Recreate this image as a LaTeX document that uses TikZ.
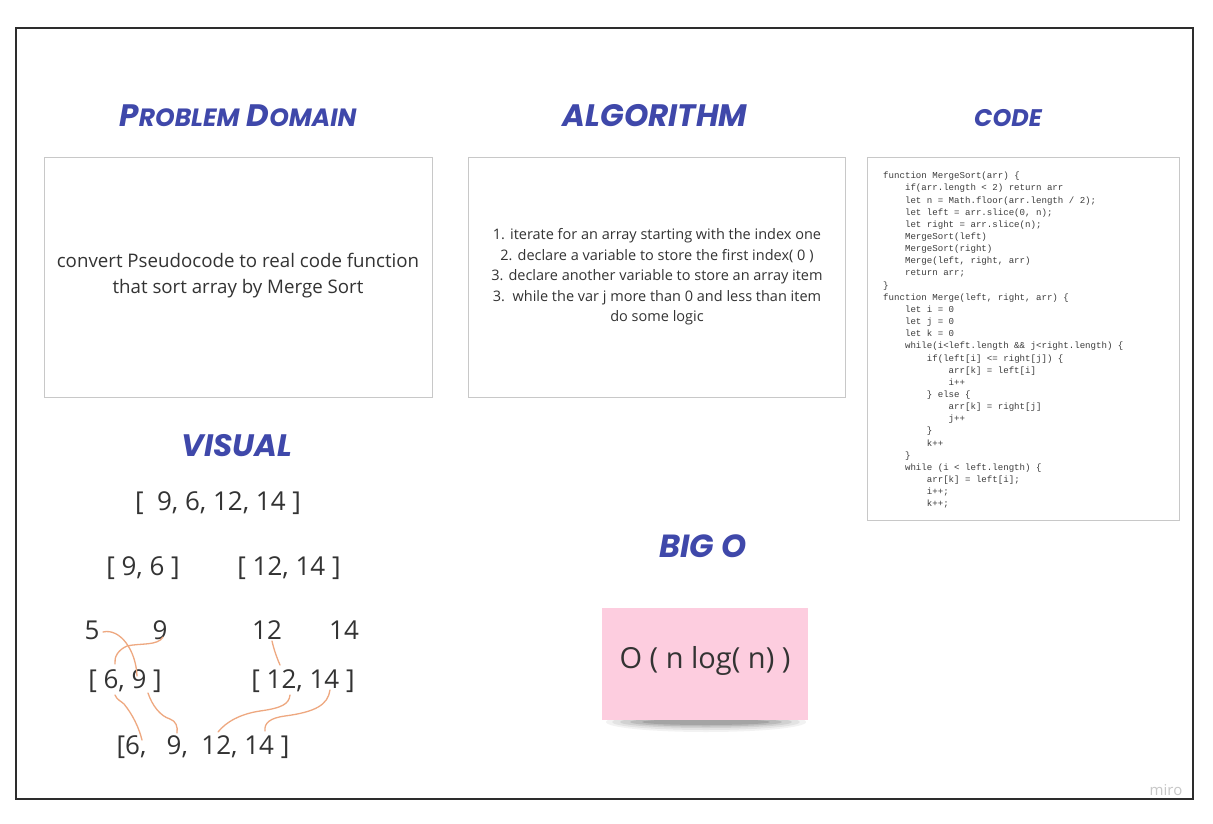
\documentclass[tikz,border=0pt]{standalone}
\usepackage{fontspec}
\setmainfont{Open Sans}
\newfontfamily\titlefont{Poppins}
\newfontfamily\codefont{Liberation Mono}
\usetikzlibrary{positioning}
\definecolor{titleblue}{RGB}{63,72,170}
\definecolor{boxgray}{RGB}{200,200,200}
\definecolor{txtgray}{RGB}{51,51,51}
\definecolor{codegray}{RGB}{60,60,60}
\definecolor{notepink}{RGB}{253,205,223}
\definecolor{curveorange}{RGB}{238,168,128}
\definecolor{framegray}{RGB}{45,45,45}
\tikzset{
  title/.style={text=titleblue, font=\titlefont\bfseries\itshape\fontsize{31}{33}\selectfont, inner sep=0pt},
  panel/.style={draw=boxgray, line width=1pt, fill=white},
  body/.style={text=txtgray, align=center, inner sep=0pt},
  arr/.style={text=txtgray, font=\fontsize{26}{30}\selectfont, inner sep=0pt},
  link/.style={draw=curveorange, line width=1.3pt, line cap=round},
}
\begin{document}
\begin{tikzpicture}[x=1pt,y=-1pt]
\useasboundingbox (0,0) rectangle (1213,824);
\fill[white] (0,0) rectangle (1213,824);
\draw[framegray, line width=2pt] (16,28) rectangle (1193,799);

% titles
\node[title] (tpd) at (238,116) {P{\fontsize{25}{27}\selectfont ROBLEM} D{\fontsize{25}{27}\selectfont OMAIN}};
\node[title] (talg) at (655,116) {ALGORITHM};
\node[title, font=\titlefont\bfseries\itshape\fontsize{24}{26}\selectfont] (tcode) at (1008,118) {CODE};
\node[title] (tvis) at (237,446) {VISUAL};
\node[title, font=\titlefont\bfseries\itshape\fontsize{32}{34}\selectfont] (tbig) at (703,546) {BIG O};

% panels
\node[panel, minimum width=388pt, minimum height=240pt, anchor=north west] (pd) at (44,157) {};
\node[body, font=\fontsize{18.7}{26}\selectfont] (pdtxt) at (238,276) {convert Pseudocode to real code function\\that sort array by Merge Sort};

\node[panel, minimum width=377pt, minimum height=240pt, anchor=north west] (alg) at (468,157) {};
\node[body, font=\fontsize{14.5}{20.5}\selectfont] (algtxt) at (657,277) {1. iterate for an array starting with the index one\\2. declare a variable to store the first index( 0 )\\3. declare another variable to store an array item\\3.\ \ while the var j more than 0 and less than item\\do some logic};

\node[panel, minimum width=312pt, minimum height=363pt, anchor=north west] (code) at (867,157) {};
\node[anchor=north west, align=left, inner sep=0pt, text=codegray, font=\codefont\fontsize{9.1}{12.15}\selectfont] (codetxt) at (883,172) {%
function MergeSort(arr) \{\\
\hspace*{2.4em}if(arr.length < 2) return arr\\
\hspace*{2.4em}let n = Math.floor(arr.length / 2);\\
\hspace*{2.4em}let left = arr.slice(0, n);\\
\hspace*{2.4em}let right = arr.slice(n);\\
\hspace*{2.4em}MergeSort(left)\\
\hspace*{2.4em}MergeSort(right)\\
\hspace*{2.4em}Merge(left, right, arr)\\
\hspace*{2.4em}return arr;\\
\}\\
function Merge(left, right, arr) \{\\
\hspace*{2.4em}let i = 0\\
\hspace*{2.4em}let j = 0\\
\hspace*{2.4em}let k = 0\\
\hspace*{2.4em}while(i<left.length \&\& j<right.length) \{\\
\hspace*{4.8em}if(left[i] <= right[j]) \{\\
\hspace*{7.2em}arr[k] = left[i]\\
\hspace*{7.2em}i++\\
\hspace*{4.8em}\} else \{\\
\hspace*{7.2em}arr[k] = right[j]\\
\hspace*{7.2em}j++\\
\hspace*{4.8em}\}\\
\hspace*{4.8em}k++\\
\hspace*{2.4em}\}\\
\hspace*{2.4em}while (i < left.length) \{\\
\hspace*{4.8em}arr[k] = left[i];\\
\hspace*{4.8em}i++;\\
\hspace*{4.8em}k++;};

% visual
\node[arr] (v0) at (218,503) {[\ \ 9, 6, 12, 14 ]};
\node[arr] (v1a) at (143,568) {[ 9, 6 ]};
\node[arr] (v1b) at (289,568) {[ 12, 14 ]};
\node[arr] (n5) at (92,630) {5};
\node[arr] (n9) at (160,630) {9};
\node[arr] (n12) at (267,630) {12};
\node[arr] (n14) at (344,630) {14};
\node[arr] (v2a) at (125,681) {[ 6, 9 ]};
\node[arr] (v2b) at (303,681) {[ 12, 14 ]};
\node[arr] (v3) at (203,747) {[6,\ \ \ 9,\ \ 12, 14 ]};

\coordinate (a1) at (103,632); \coordinate (a2) at (137,676);
\coordinate (b1) at (163,637); \coordinate (b2) at (115,664);
\coordinate (c1) at (115,695); \coordinate (c2) at (142,740);
\coordinate (d1) at (148,693); \coordinate (d2) at (177,733);
\coordinate (e1) at (272,641); \coordinate (e2) at (280,665);
\coordinate (f1) at (290,695); \coordinate (f2) at (218,732);
\coordinate (g1) at (330,690); \coordinate (g2) at (265,731);

\draw[link] (a1) .. controls (120,628) and (136,650) .. (a2);
\draw[link] (b1) .. controls (158,646) and (140,643) .. (127,646) .. controls (118,650) and (114,657) .. (b2);
\draw[link] (c1) .. controls (117,700) and (121,701) .. (124,704) .. controls (133,715) and (139,728) .. (c2);
\draw[link] (d1) .. controls (152,705) and (160,716) .. (170,719) .. controls (176,721) and (178,727) .. (d2);
\draw[link] (e1) .. controls (274,650) and (277,658) .. (e2);
\draw[link] (f1) .. controls (289,704) and (282,708) .. (260,711) .. controls (240,714) and (226,722) .. (f2);
\draw[link] (g1) .. controls (328,705) and (315,712) .. (285,716) .. controls (270,718) and (264,723) .. (g2);

% big O sticky note
\foreach \rx/\ry/\op in {100/10/0.05, 94/8/0.06, 86/6/0.08, 76/4.5/0.10, 64/3/0.12}{
  \fill[black, opacity=\op] (706,722) ellipse ({\rx} and {\ry});
}
\node[fill=notepink, minimum width=206pt, minimum height=112pt, anchor=north west, inner sep=0pt] (note) at (602,608) {};
\node[text=txtgray, font=\fontsize{29}{33}\selectfont, inner sep=0pt] (bigo) at (705,661) {O ( n log( n) )};

\node[text=black!22, font=\fontsize{15}{17}\selectfont, inner sep=0pt] (miro) at (1166,790) {miro};
\end{tikzpicture}
\end{document}
